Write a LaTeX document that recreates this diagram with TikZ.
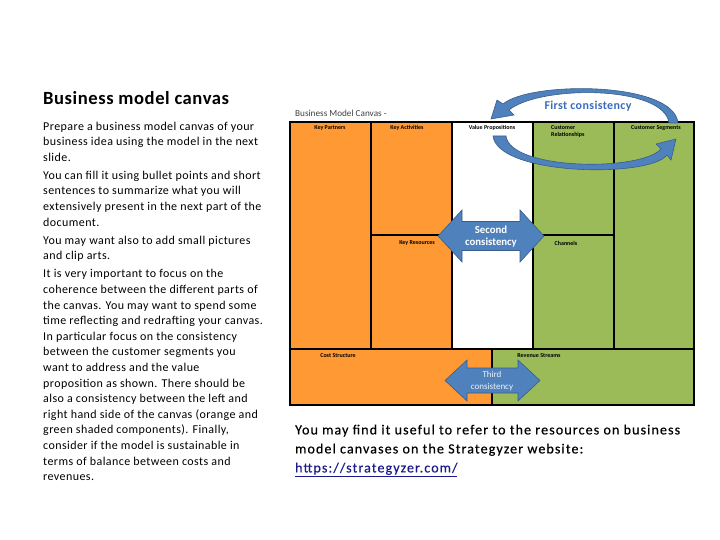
\documentclass[tikz,border=0pt]{standalone}
\usepackage{fontspec}
\setmainfont{Carlito}
\newfontfamily\bodyfont[LetterSpace=3.5]{Carlito}
\newfontfamily\titlefont[LetterSpace=3]{Carlito}
\newfontfamily\notefont[LetterSpace=8,FakeBold=0.4]{Carlito}
\usetikzlibrary{positioning}

\definecolor{canvasorange}{HTML}{FF9933}
\definecolor{canvasgreen}{HTML}{9BBB59}
\definecolor{arrowblue}{HTML}{4F81BD}
\definecolor{arrowline}{HTML}{385D8A}
\definecolor{firstblue}{HTML}{3A6BC0}
\definecolor{linkblue}{HTML}{1A1A8C}
\definecolor{headgray}{HTML}{404040}

\tikzset{
  cell/.style={draw=black, line width=1.2pt},
  celllabel/.style={font=\fontsize{6}{7}\selectfont\bfseries, inner sep=0pt},
  bodytext/.style={align=left, inner sep=0pt, anchor=north west},
  bigarrow/.style={fill=arrowblue, draw=arrowline, line width=0.6pt}
}

\begin{document}
\begin{tikzpicture}[x=1pt, y=-1pt]
  \useasboundingbox (0,0) rectangle (720,540);

  % left column text
  \node[anchor=west, inner sep=0pt, font=\titlefont\fontsize{18.6}{21}\selectfont\bfseries] (title) at (43,98) {Business model canvas};
  \node[bodytext, font=\bodyfont\fontsize{12}{15.6}\selectfont] (intro) at (43,121.5)
    {Prepare a business model canvas of your\\
     business idea using the model in the next\\
     slide.\\[2.5pt]
     You can fill it using bullet points and short\\
     sentences to summarize what you will\\
     extensively present in the next part of the\\
     document.\\[2.5pt]
     You may want also to add small pictures\\
     and clip arts.\\[2.5pt]
     It is very important to focus on the\\
     coherence between the different parts of\\
     the canvas. You may want to spend some\\
     time reflecting and redrafting your canvas.\\
     In particular focus on the consistency\\
     between the customer segments you\\
     want to address and the value\\
     proposition as shown. There should be\\
     also a consistency between the left and\\
     right hand side of the canvas (orange and\\
     green shaded components). Finally,\\
     consider if the model is sustainable in\\
     terms of balance between costs and\\
     revenues.};

  % the canvas
  \node[anchor=west, inner sep=0pt, text=headgray, font=\fontsize{9.2}{11}\selectfont] (canvastitle) at (295,113) {Business Model Canvas -};
  \fill[canvasorange] (290,122) rectangle (452,349);
  \fill[canvasgreen] (533,122) rectangle (694,349);
  \fill[canvasorange] (290,349) rectangle (492,405);
  \fill[canvasgreen] (492,349) rectangle (694,405);
  \draw[cell] (290,122) rectangle (694,405);
  \foreach \x in {371,452,533,614}
    \draw[cell] (\x,122) -- (\x,349);
  \draw[cell] (290,349) -- (694,349);
  \draw[cell] (371,235) -- (452,235);
  \draw[cell] (533,235) -- (614,235);
  \draw[cell] (492,349) -- (492,405);

  \node[celllabel] (partners) at (330,128) {Key Partners};
  \node[celllabel] (activities) at (407,128) {Key Activities};
  \node[celllabel] (proposition) at (492,128) {Value Propositions};
  \node[celllabel, anchor=north west, align=left] (relations) at (551,125) {Customer\\Relationships};
  \node[celllabel] (segments) at (656,128) {Customer Segments};
  \node[celllabel] (resources) at (417,243) {Key Resources};
  \node[celllabel] (channels) at (566,243) {Channels};
  \node[celllabel] (costs) at (338,356) {Cost Structure};
  \node[celllabel] (revenue) at (539,356) {Revenue Streams};

  % consistency arrows
  \filldraw[bigarrow] (678,123) .. controls (674,81) and (530,81) .. (503,104)
    -- (497,100) -- (491,119) -- (514,115) -- (509,110)
    .. controls (540,85) and (664,85) .. (669,123) -- cycle;
  \filldraw[bigarrow] (493,136) .. controls (498,176) and (650,178) .. (667,155)
    -- (671,160) -- (676,139) -- (656,144) -- (661,149)
    .. controls (640,172) and (510,170) .. (506,136) -- cycle;
  \node[text=firstblue, font=\titlefont\fontsize{12}{14}\selectfont\bfseries] (first) at (588,106) {First consistency};

  \filldraw[bigarrow] (438,236) -- (462,210) -- (462,221.5) -- (520,221.5) -- (520,210)
    -- (544,236) -- (520,262) -- (520,250.5) -- (462,250.5) -- (462,262) -- cycle;
  \node[text=white, align=center, font=\fontsize{10.8}{12.8}\selectfont\bfseries] (second) at (491,236.5) {Second\\consistency};

  \filldraw[bigarrow] (445,380.5) -- (467,360) -- (467,368) -- (518,368) -- (518,360)
    -- (540,380.5) -- (518,401) -- (518,393) -- (467,393) -- (467,401) -- cycle;
  \node[text=white!90!arrowblue, align=center, font=\fontsize{9}{12}\selectfont] (third) at (492,381) {Third\\consistency};

  % pointer to the resources
  \node[bodytext, font=\notefont\fontsize{14}{19}\selectfont] (resources note) at (295,424.5)
    {You may find it useful to refer to the resources on business\\
     model canvases on the Strategyzer website:\\
     \textcolor{linkblue}{\underline{https://strategyzer.com/}}};
\end{tikzpicture}
\end{document}
